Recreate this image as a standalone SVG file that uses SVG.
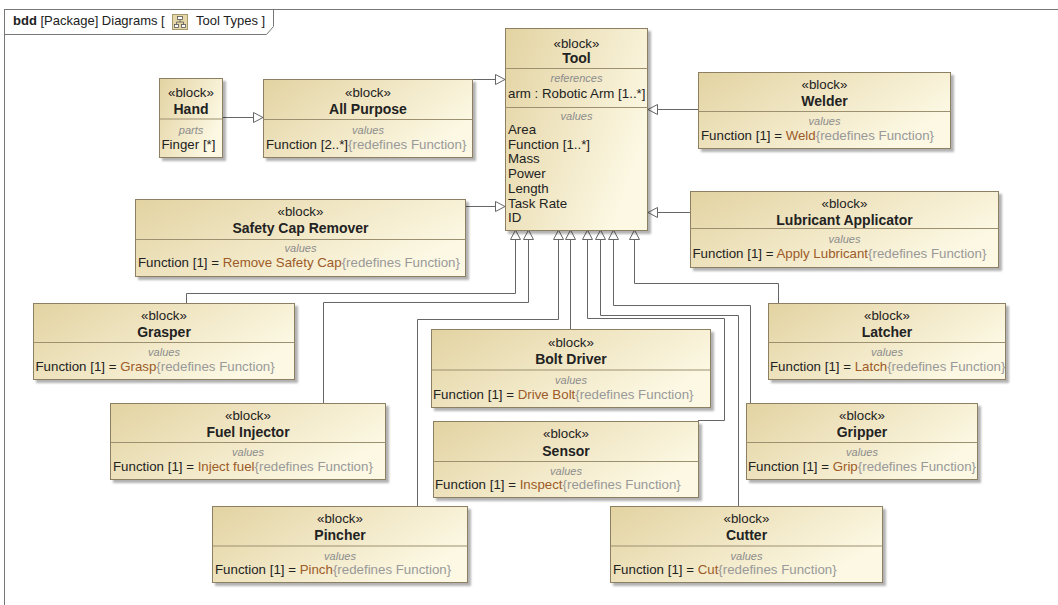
<svg xmlns="http://www.w3.org/2000/svg" width="1058" height="605" viewBox="0 0 1058 605">
  <defs>
    <linearGradient id="blockFill" x1="0" y1="0" x2="1" y2="0.5">
      <stop offset="0" stop-color="#e3d3a2"/>
      <stop offset="1" stop-color="#fcf8e3"/>
    </linearGradient>
    <filter id="shadow" x="-5%" y="-5%" width="115%" height="120%">
      <feDropShadow dx="3" dy="3" stdDeviation="1.2" flood-color="#000" flood-opacity="0.3"/>
    </filter>
    <marker id="gen" viewBox="0 0 11 11" markerWidth="11" markerHeight="11" refX="10" refY="5.5" orient="auto" markerUnits="userSpaceOnUse">
      <path d="M0.5,0.5 L10,5.5 L0.5,10.5 Z" fill="#fff" stroke="#666" stroke-width="1"/>
    </marker>
    <style>
      text { font-family: "Liberation Sans", Arial, sans-serif; fill: #222; }
      .box { fill: url(#blockFill); stroke: #8d8062; stroke-width: 1; filter: url(#shadow); }
      .div { stroke: #9d9070; stroke-width: 1; }
      .st { font-size: 13.3px; text-anchor: middle; }
      .nm { font-size: 14px; font-weight: bold; text-anchor: middle; }
      .lbl { font-size: 11px; font-style: italic; fill: #8c8c8c; text-anchor: middle; }
      .val { font-size: 13.3px; }
      .v { fill: #9c5b28; }
      .rd { fill: #999; }
      .conn { fill: none; stroke: #666; stroke-width: 1; marker-end: url(#gen); }
      .frame { fill: none; stroke: #777; stroke-width: 1; }
    </style>
  </defs>

  <rect width="1058" height="605" fill="#fff"/>

  <!-- diagram frame and name tab -->
  <g id="frame">
    <rect class="frame" x="4.5" y="9.5" width="1200" height="800"/>
    <path class="frame" d="M4.5,34.5 H266.5 L273.5,26.5 V9.5"/>
    <text x="13" y="25" font-size="13px"><tspan font-weight="bold">bdd</tspan> [Package] Diagrams [</text>
    <g transform="translate(172,14)">
      <rect x="0.5" y="0.5" width="15" height="15" fill="#e6d7a8" stroke="#a8996e"/>
      <rect x="5.5" y="2.5" width="5" height="3" fill="#fff" stroke="#555" stroke-width="0.8"/>
      <rect x="2.5" y="10.5" width="4" height="3" fill="#fff" stroke="#555" stroke-width="0.8"/>
      <rect x="9.5" y="10.5" width="4" height="3" fill="#fff" stroke="#555" stroke-width="0.8"/>
      <path d="M8,5.5 V8 M4.5,8 H11.5 M4.5,8 V10.5 M11.5,8 V10.5" stroke="#555" stroke-width="0.8" fill="none"/>
    </g>
    <text x="196" y="25" font-size="13px">Tool Types ]</text>
  </g>

  <!-- generalization connectors -->
  <g id="connectors">
    <polyline class="conn" points="222,117.5 263,117.5"/>
    <polyline class="conn" points="472,79.5 505,79.5"/>
    <polyline class="conn" points="465,206.5 505,206.5"/>
    <polyline class="conn" points="698,109.5 648,109.5"/>
    <polyline class="conn" points="690,212.5 648,212.5"/>
    <polyline class="conn" points="186.5,303 186.5,293.5 515.5,293.5 515.5,230"/>
    <polyline class="conn" points="323.5,403 323.5,302.5 528.5,302.5 528.5,230"/>
    <polyline class="conn" points="417.5,507 417.5,319.5 558.5,319.5 558.5,230"/>
    <polyline class="conn" points="570.5,329 570.5,230"/>
    <polyline class="conn" points="698,420.5 724.5,420.5 724.5,318.5 587.5,318.5 587.5,230"/>
    <polyline class="conn" points="738.5,506 738.5,315.5 600.5,315.5 600.5,230"/>
    <polyline class="conn" points="750.5,403 750.5,305.5 613.5,305.5 613.5,230"/>
    <polyline class="conn" points="778.5,303 778.5,283.5 634.5,283.5 634.5,230"/>
  </g>

  <!-- Tool -->
  <g id="tool" transform="translate(505.5,28.5)">
    <rect class="box" width="142" height="202"/>
    <line class="div" x1="0" y1="40" x2="142" y2="40"/>
    <line class="div" x1="0" y1="79" x2="142" y2="79"/>
    <text class="st" x="71" y="19">«block»</text>
    <text class="nm" x="71" y="34">Tool</text>
    <text class="lbl" x="71" y="53">references</text>
    <text class="val" x="2.5" y="69">arm : Robotic Arm [1..*]</text>
    <text class="lbl" x="71" y="91">values</text>
    <text class="val" x="2.5" y="105.5">Area</text>
    <text class="val" x="2.5" y="120.2">Function [1..*]</text>
    <text class="val" x="2.5" y="134.9">Mass</text>
    <text class="val" x="2.5" y="149.6">Power</text>
    <text class="val" x="2.5" y="164.3">Length</text>
    <text class="val" x="2.5" y="179">Task Rate</text>
    <text class="val" x="2.5" y="193.7">ID</text>
  </g>

  <!-- Hand -->
  <g id="hand" transform="translate(159.5,78.5)">
    <rect class="box" width="63" height="79"/>
    <line class="div" x1="0" y1="40.5" x2="63" y2="40.5"/>
    <text class="st" x="31.5" y="18">«block»</text>
    <text class="nm" x="31.5" y="35">Hand</text>
    <text class="lbl" x="31.5" y="55">parts</text>
    <text class="val" x="2" y="70">Finger [*]</text>
  </g>

  <!-- All Purpose -->
  <g id="all-purpose" transform="translate(263.5,79.5)">
    <rect class="box" width="209" height="78"/>
    <line class="div" x1="0" y1="40" x2="209" y2="40"/>
    <text class="st" x="104.5" y="17">«block»</text>
    <text class="nm" x="104.5" y="34">All Purpose</text>
    <text class="lbl" x="104.5" y="54">values</text>
    <text class="val" x="2.5" y="69">Function [2..*]<tspan class="rd">{redefines Function}</tspan></text>
  </g>

  <!-- Welder -->
  <g id="welder" transform="translate(698.5,72.5)">
    <rect class="box" width="252" height="76"/>
    <line class="div" x1="0" y1="39" x2="252" y2="39"/>
    <text class="st" x="126" y="16">«block»</text>
    <text class="nm" x="126" y="33">Welder</text>
    <text class="lbl" x="126" y="52.5">values</text>
    <text class="val" x="2.5" y="67">Function [1] = <tspan class="v">Weld</tspan><tspan class="rd">{redefines Function}</tspan></text>
  </g>

  <!-- Safety Cap Remover -->
  <g id="safety-cap-remover" transform="translate(135.5,199.5)">
    <rect class="box" width="330" height="77"/>
    <line class="div" x1="0" y1="40" x2="330" y2="40"/>
    <text class="st" x="165" y="16">«block»</text>
    <text class="nm" x="165" y="33">Safety Cap Remover</text>
    <text class="lbl" x="165" y="52.5">values</text>
    <text class="val" x="2.5" y="67">Function [1] = <tspan class="v">Remove Safety Cap</tspan><tspan class="rd">{redefines Function}</tspan></text>
  </g>

  <!-- Lubricant Applicator -->
  <g id="lubricant-applicator" transform="translate(690.5,191.5)">
    <rect class="box" width="308" height="76"/>
    <line class="div" x1="0" y1="37" x2="308" y2="37"/>
    <text class="st" x="154" y="16">«block»</text>
    <text class="nm" x="154" y="33">Lubricant Applicator</text>
    <text class="lbl" x="154" y="51">values</text>
    <text class="val" x="2" y="66">Function [1] = <tspan class="v">Apply Lubricant</tspan><tspan class="rd">{redefines Function}</tspan></text>
  </g>

  <!-- Grasper -->
  <g id="grasper" transform="translate(33.5,303.5)">
    <rect class="box" width="261" height="76"/>
    <line class="div" x1="0" y1="39" x2="261" y2="39"/>
    <text class="st" x="130.5" y="16">«block»</text>
    <text class="nm" x="130.5" y="33">Grasper</text>
    <text class="lbl" x="130.5" y="52.5">values</text>
    <text class="val" x="2" y="67">Function [1] = <tspan class="v">Grasp</tspan><tspan class="rd">{redefines Function}</tspan></text>
  </g>

  <!-- Latcher -->
  <g id="latcher" transform="translate(768.5,303.5)">
    <rect class="box" width="237" height="76"/>
    <line class="div" x1="0" y1="39" x2="237" y2="39"/>
    <text class="st" x="118.5" y="16">«block»</text>
    <text class="nm" x="118.5" y="33">Latcher</text>
    <text class="lbl" x="118.5" y="52.5">values</text>
    <text class="val" x="1.5" y="67">Function [1] = <tspan class="v">Latch</tspan><tspan class="rd">{redefines Function}</tspan></text>
  </g>

  <!-- Bolt Driver -->
  <g id="bolt-driver" transform="translate(431.5,329.5)">
    <rect class="box" width="279" height="78"/>
    <line class="div" x1="0" y1="40.5" x2="279" y2="40.5"/>
    <text class="st" x="139.5" y="17.5">«block»</text>
    <text class="nm" x="139.5" y="34.5">Bolt Driver</text>
    <text class="lbl" x="139.5" y="54">values</text>
    <text class="val" x="1.5" y="69">Function [1] = <tspan class="v">Drive Bolt</tspan><tspan class="rd">{redefines Function}</tspan></text>
  </g>

  <!-- Fuel Injector -->
  <g id="fuel-injector" transform="translate(110.5,403.5)">
    <rect class="box" width="275" height="76"/>
    <line class="div" x1="0" y1="39" x2="275" y2="39"/>
    <text class="st" x="137.5" y="16">«block»</text>
    <text class="nm" x="137.5" y="33">Fuel Injector</text>
    <text class="lbl" x="137.5" y="52.5">values</text>
    <text class="val" x="2.5" y="67">Function [1] = <tspan class="v">Inject fuel</tspan><tspan class="rd">{redefines Function}</tspan></text>
  </g>

  <!-- Sensor -->
  <g id="sensor" transform="translate(433.5,421.5)">
    <rect class="box" width="265" height="76"/>
    <line class="div" x1="0" y1="40" x2="265" y2="40"/>
    <text class="st" x="132.5" y="16.5">«block»</text>
    <text class="nm" x="132.5" y="34">Sensor</text>
    <text class="lbl" x="132.5" y="53">values</text>
    <text class="val" x="1.5" y="67.5">Function [1] = <tspan class="v">Inspect</tspan><tspan class="rd">{redefines Function}</tspan></text>
  </g>

  <!-- Gripper -->
  <g id="gripper" transform="translate(746.5,403.5)">
    <rect class="box" width="231" height="76"/>
    <line class="div" x1="0" y1="39" x2="231" y2="39"/>
    <text class="st" x="115.5" y="16">«block»</text>
    <text class="nm" x="115.5" y="33">Gripper</text>
    <text class="lbl" x="115.5" y="52.5">values</text>
    <text class="val" x="1.5" y="67">Function [1] = <tspan class="v">Grip</tspan><tspan class="rd">{redefines Function}</tspan></text>
  </g>

  <!-- Pincher -->
  <g id="pincher" transform="translate(212.5,506.5)">
    <rect class="box" width="255" height="76"/>
    <line class="div" x1="0" y1="39.5" x2="255" y2="39.5"/>
    <text class="st" x="127.5" y="16">«block»</text>
    <text class="nm" x="127.5" y="33.5">Pincher</text>
    <text class="lbl" x="127.5" y="53">values</text>
    <text class="val" x="2.5" y="67.5">Function [1] = <tspan class="v">Pinch</tspan><tspan class="rd">{redefines Function}</tspan></text>
  </g>

  <!-- Cutter -->
  <g id="cutter" transform="translate(610.5,506.5)">
    <rect class="box" width="272" height="76"/>
    <line class="div" x1="0" y1="39.5" x2="272" y2="39.5"/>
    <text class="st" x="136" y="16">«block»</text>
    <text class="nm" x="136" y="33.5">Cutter</text>
    <text class="lbl" x="136" y="53">values</text>
    <text class="val" x="2.5" y="67.5">Function [1] = <tspan class="v">Cut</tspan><tspan class="rd">{redefines Function}</tspan></text>
  </g>
</svg>
